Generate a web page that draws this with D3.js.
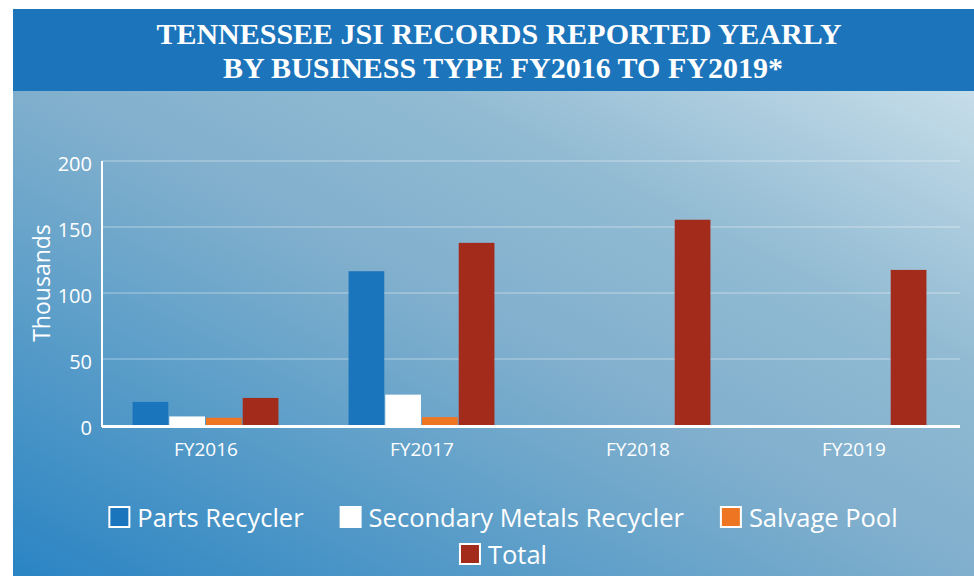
<!DOCTYPE html>
<html lang="en">
<head>
    <meta charset="UTF-8">
    <title>Tennessee JSI Records Reported Yearly</title>
    <script src="https://d3js.org/d3.v7.min.js"></script>
    <style>
        * {
            margin: 0;
            padding: 0;
            box-sizing: border-box;
        }

        body {
            background: #fff;
            width: 974px;
            height: 576px;
            overflow: hidden;
        }

        .title {
            font-family: 'Liberation Serif', serif;
            font-weight: bold;
            font-size: 30px;
            fill: #fff;
            text-anchor: middle;
        }

        .tick text {
            font-family: 'Open Sans', sans-serif;
            font-size: 20px;
            fill: #fff;
        }

        .x-labels .tick text {
            font-size: 19px;
        }

        .axis-title {
            font-family: 'Open Sans', sans-serif;
            font-size: 23px;
            fill: #fff;
        }

        .legend-label {
            font-family: 'Open Sans', sans-serif;
            font-size: 25.5px;
            fill: #fff;
        }
    </style>
</head>
<body>
    <div id="chart"></div>

    <script>
        // Data (thousands of records)
        const years = ["FY2016", "FY2017", "FY2018", "FY2019"];
        const seriesNames = ["Parts Recycler", "Secondary Metals Recycler", "Salvage Pool", "Total"];
        const partsRecycler = [17.5, 116.5, null, null];
        const secondaryMetals = [6.5, 23, null, null];
        const salvagePool = [5.5, 6, null, null];
        const total = [20.5, 138, 155.5, 117.5];
        const yTicks = [0, 50, 100, 150, 200];
        const colors = ["#1b75bc", "#ffffff", "#ee7623", "#a32b1c"];

        const seriesValues = [partsRecycler, secondaryMetals, salvagePool, total];

        const width = 974;
        const height = 576;

        const svg = d3.select("#chart")
            .append("svg")
            .attr("width", width)
            .attr("height", height);

        // Background gradient
        const defs = svg.append("defs");
        const grad = defs.append("linearGradient")
            .attr("id", "bg")
            .attr("x1", 0).attr("y1", 1)
            .attr("x2", 1).attr("y2", 0);
        grad.append("stop").attr("offset", "0%").attr("stop-color", "#2a84c3");
        grad.append("stop").attr("offset", "30%").attr("stop-color", "#5e9fc9");
        grad.append("stop").attr("offset", "50%").attr("stop-color", "#80afcd");
        grad.append("stop").attr("offset", "72%").attr("stop-color", "#92bbd3");
        grad.append("stop").attr("offset", "100%").attr("stop-color", "#c6dde9");

        svg.append("rect")
            .attr("x", 13).attr("y", 90)
            .attr("width", width - 13).attr("height", height - 90)
            .attr("fill", "url(#bg)");

        // Header band
        svg.append("rect")
            .attr("x", 13).attr("y", 9)
            .attr("width", width - 13).attr("height", 82)
            .attr("fill", "#1c74bb");

        svg.append("text").attr("class", "title")
            .attr("x", 499).attr("y", 44)
            .text("TENNESSEE JSI RECORDS REPORTED YEARLY");
        svg.append("text").attr("class", "title")
            .attr("x", 503).attr("y", 78)
            .text("BY BUSINESS TYPE FY2016 TO FY2019*");

        // Scales
        const plotLeft = 102, plotRight = 960;
        const y = d3.scaleLinear().domain([0, 200]).range([425, 161]);

        const x0 = d3.scaleBand()
            .domain(years)
            .range([98, 962])
            .paddingInner(0.32)
            .paddingOuter(0.16);

        const x1 = d3.scaleBand()
            .domain(seriesNames)
            .range([0, x0.bandwidth()]);

        // Gridlines
        svg.append("g")
            .selectAll("line")
            .data(yTicks.filter(d => d > 0))
            .enter()
            .append("line")
            .attr("x1", plotLeft).attr("x2", plotRight)
            .attr("y1", d => y(d)).attr("y2", d => y(d))
            .attr("stroke", "rgba(255,255,255,0.3)")
            .attr("stroke-width", 1.5);

        // Y axis labels
        const yAxis = svg.append("g")
            .attr("transform", `translate(${plotLeft},0)`)
            .call(d3.axisLeft(y).tickValues(yTicks).tickSize(0).tickPadding(10));
        yAxis.select(".domain").remove();
        yAxis.selectAll(".tick text").attr("dy", "0.6em").attr("y", -3);

        svg.append("text")
            .attr("class", "axis-title")
            .attr("transform", "translate(50,283) rotate(-90)")
            .attr("text-anchor", "middle")
            .text("Thousands");

        // Bars
        const groups = svg.append("g")
            .selectAll("g")
            .data(years)
            .enter()
            .append("g")
            .attr("transform", d => `translate(${x0(d)},0)`);

        groups.selectAll("rect")
            .data((d, i) => seriesNames.map((s, k) => ({ key: s, value: seriesValues[k][i], color: colors[k] }))
                .filter(e => e.value != null))
            .enter()
            .append("rect")
            .attr("x", d => x1(d.key))
            .attr("y", d => y(d.value))
            .attr("width", x1.bandwidth() - 1)
            .attr("height", d => y(0) - y(d.value))
            .attr("fill", d => d.color);

        // Axis lines
        svg.append("line")
            .attr("x1", plotLeft).attr("x2", plotLeft)
            .attr("y1", y(200)).attr("y2", y(0) + 2)
            .attr("stroke", "#fff").attr("stroke-width", 2);
        svg.append("line")
            .attr("x1", plotLeft).attr("x2", plotRight)
            .attr("y1", y(0) + 1.5).attr("y2", y(0) + 1.5)
            .attr("stroke", "#fff").attr("stroke-width", 3);

        // X labels
        const xAxis = svg.append("g")
            .attr("class", "x-labels")
            .attr("transform", `translate(0,${y(0)})`)
            .call(d3.axisBottom(x0).tickSize(0).tickPadding(18));
        xAxis.select(".domain").remove();

        // Legend, two centred rows
        const rows = [seriesNames.slice(0, 3), seriesNames.slice(3)];
        const rowY = [518, 555];
        const sw = 22, swGap = 7, itemGap = 36, legendCenter = 503;

        rows.forEach((row, r) => {
            const g = svg.append("g");
            let cx = 0;
            row.forEach(name => {
                const k = seriesNames.indexOf(name);
                const item = g.append("g").attr("transform", `translate(${cx},0)`);
                item.append("rect")
                    .attr("x", 1).attr("y", rowY[r] - sw / 2)
                    .attr("width", sw - 2).attr("height", sw - 2)
                    .attr("fill", colors[k])
                    .attr("stroke", "#fff").attr("stroke-width", 2);
                const t = item.append("text")
                    .attr("class", "legend-label")
                    .attr("x", sw + swGap)
                    .attr("y", rowY[r] + 9)
                    .text(name);
                cx += sw + swGap + t.node().getComputedTextLength() + itemGap;
            });
            const rowWidth = cx - itemGap;
            g.attr("transform", `translate(${legendCenter - rowWidth / 2},0)`);
        });
    </script>
</body>
</html>
